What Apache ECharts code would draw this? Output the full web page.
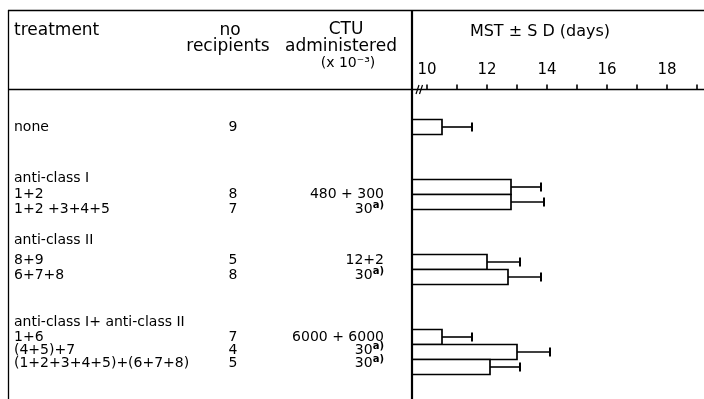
<!DOCTYPE html>
<html>
<head>
<meta charset="utf-8">
<script src="https://cdn.jsdelivr.net/npm/echarts@6/dist/echarts.min.js"></script>
<style>
  html, body { margin: 0; padding: 0; background: #fff; }
  #chart { width: 704px; height: 399px; }
</style>
</head>
<body>
<div id="chart"></div>
<script>
// Treatment groups (null = ungrouped control row)
const groupTitles = [null, 'anti-class I', 'anti-class II', 'anti-class I+ anti-class II'];

// One entry per treatment row
const treatments = ['none', '1+2', '1+2 +3+4+5', '8+9', '6+7+8', '1+6', '(4+5)+7', '(1+2+3+4+5)+(6+7+8)'];
const treatmentGroup = [0, 1, 1, 2, 2, 3, 3, 3];
const recipients = [9, 8, 7, 5, 8, 7, 4, 5];
const ctuDoses = ['', '480 + 300', '30', '12+2', '30', '6000 + 6000', '30', '30'];
const ctuNotes = ['', '', 'a)', '', 'a)', '', 'a)', 'a)'];
const mstDays = [10.5, 12.8, 12.8, 12.0, 12.7, 10.5, 13.0, 12.1];
const sdDays = [1.0, 1.0, 1.1, 1.1, 1.1, 1.0, 1.1, 1.0];

// Axis ticks and labels (days)
const tickValues = [10, 11, 12, 13, 14, 15, 16, 17, 18, 19];
const tickLabels = [10, 12, 14, 16, 18];
const X_MIN = 9.5;
const X_MAX = 19.25;

const FONT = 'DejaVu Sans';
const INK = '#000';

// Typeset text lines sit slightly off the bar rows; vertical nudges in px
const titleNudge = [0, 6, -7, 0];
const itemNudge = [0, 7, 7, -2, -2, 0, -2, -4];

// Build table rows: two spacer rows before each group, then the group title, then its treatments
const rows = [];
groupTitles.forEach((title, g) => {
  rows.push({ kind: 'gap' }, { kind: 'gap' });
  if (title) rows.push({ kind: 'title', group: g, text: title });
  treatments.forEach((t, i) => {
    if (treatmentGroup[i] === g) rows.push({ kind: 'item', idx: i });
  });
});
rows.push({ kind: 'gap' });
const rowKeys = rows.map((r, k) => 'row' + k);

const barData = [];
rows.forEach((r, k) => {
  if (r.kind === 'item') barData.push([mstDays[r.idx], sdDays[r.idx], k]);
});

function renderBar(params, api) {
  const mean = api.value(0);
  const sd = api.value(1);
  const row = api.value(2);
  const base = api.coord([X_MIN, row]);
  const end = api.coord([mean, row]);
  const tip = api.coord([mean + sd, row]);
  const h = api.size([0, 1])[1];
  return {
    type: 'group',
    children: [
      { type: 'rect', shape: { x: base[0], y: base[1] - h / 2, width: end[0] - base[0], height: h },
        style: { fill: '#fff', stroke: INK, lineWidth: 1.7 } },
      { type: 'line', shape: { x1: end[0], y1: end[1], x2: tip[0], y2: tip[1] },
        style: { stroke: INK, lineWidth: 1.6 } },
      { type: 'line', shape: { x1: tip[0], y1: tip[1] - 4.5, x2: tip[0], y2: tip[1] + 4.5 },
        style: { stroke: INK, lineWidth: 2 } }
    ]
  };
}

const chart = echarts.init(document.getElementById('chart'), null, { renderer: 'canvas' });

chart.setOption({
  animation: false,
  backgroundColor: '#fff',
  textStyle: { fontFamily: FONT },
  grid: { left: 412, top: 89.5, width: 292.5, height: 300, outerBoundsMode: 'none', containLabel: false },
  xAxis: {
    type: 'value',
    position: 'top',
    min: X_MIN,
    max: X_MAX,
    axisLine: { show: false },
    axisTick: { show: true, customValues: tickValues, length: 5, inside: false,
      lineStyle: { color: INK, width: 1.6 } },
    axisLabel: { customValues: tickLabels, margin: 12, color: INK, fontSize: 15, fontFamily: FONT },
    splitLine: { show: false }
  },
  yAxis: { type: 'category', inverse: true, data: rowKeys, show: false },
  series: [{
    type: 'custom',
    renderItem: renderBar,
    data: barData,
    encode: { x: 0, y: 2 },
    clip: false,
    z: 2
  }]
});

// Table frame, header text and row text
const rowY = k => chart.convertToPixel({ yAxisIndex: 0 }, k);
const txt = (text, x, y, size, align, extra) => ({
  type: 'text', x, y, silent: true,
  style: Object.assign({ text, fill: INK, font: size + 'px ' + FONT,
    textAlign: align, textVerticalAlign: 'middle' }, extra || {})
});
const line = (x1, y1, x2, y2, w) => ({
  type: 'line', silent: true, z: 5,
  shape: { x1, y1, x2, y2 }, style: { stroke: INK, lineWidth: w }
});

const g = [
  line(8, 10.5, 704, 10.5, 1.5),
  line(8.5, 10, 8.5, 399, 1.3),
  line(412, 10, 412, 399, 2.2),
  line(8, 89.5, 704, 89.5, 1.7),
  line(416, 94, 419, 85, 1.2),
  line(419.5, 94, 422.5, 85, 1.2),
  txt('treatment', 14, 31, 17, 'left'),
  txt('no', 230, 31, 17, 'center'),
  txt('recipients', 228, 47, 17, 'center'),
  txt('CTU', 346, 30, 17, 'center'),
  txt('administered', 341, 47, 17, 'center'),
  txt('(x 10⁻³)', 348, 63, 14, 'center'),
  txt('MST ± S D (days)', 540, 32, 16, 'center')
];

rows.forEach((r, k) => {
  const y = rowY(k);
  if (r.kind === 'title') {
    g.push(txt(r.text, 14, y + titleNudge[r.group], 14, 'left'));
  } else if (r.kind === 'item') {
    const i = r.idx;
    const ty = y + itemNudge[i];
    g.push(txt(treatments[i], 14, ty, 14, 'left'));
    g.push(txt(String(recipients[i]), 233, ty, 14, 'center'));
    if (ctuDoses[i]) {
      g.push(txt(ctuDoses[i] + (ctuNotes[i] ? '{sup|' + ctuNotes[i] + '}' : ''), 384, ty, 14, 'right', {
        rich: { sup: { fontSize: 10, fontWeight: 'bold', fontFamily: FONT, fill: INK, padding: [0, 0, 7, 0] } }
      }));
    }
  }
});

chart.setOption({ graphic: g });
</script>
</body>
</html>
